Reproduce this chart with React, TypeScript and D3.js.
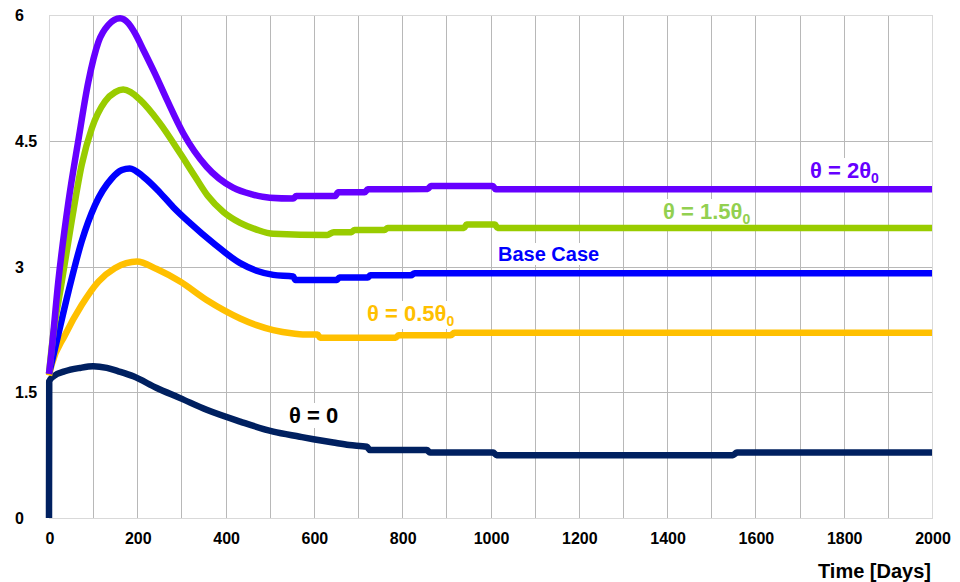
import React, { useEffect, useRef } from "react";
import * as d3 from "d3";

type Pt = [number, number];

const xTicks = [0, 200, 400, 600, 800, 1000, 1200, 1400, 1600, 1800, 2000];
const yTicks = [0, 1.5, 3, 4.5, 6];
const yTickLabels = ["0", "1.5", "3", "4.5", "6"];
const xGrid = d3.range(0, 2001, 100);

const theta2: Pt[] = [
  [0, 1.72], [5, 1.95], [21, 2.82], [44, 3.77], [66, 4.49], [89, 5.2], [112, 5.68], [134, 5.88],
  [161, 5.96], [180, 5.9], [195, 5.78], [214, 5.58], [240, 5.3], [267, 4.99], [304, 4.59],
  [357, 4.19], [417, 3.94], [460, 3.86], [500, 3.82], [553, 3.81], [560, 3.84], [648, 3.84],
  [655, 3.885], [715, 3.885], [722, 3.92], [858, 3.925], [865, 3.96], [1005, 3.96], [1012, 3.92],
  [2000, 3.92],
];
const theta15: Pt[] = [
  [0, 1.72], [6, 2.03], [29, 2.82], [51, 3.53], [74, 4.21], [97, 4.65], [127, 4.97], [150, 5.08],
  [168, 5.11], [185, 5.08], [206, 4.99], [251, 4.71], [297, 4.35], [330, 4.08], [360, 3.84],
  [395, 3.65], [433, 3.52], [470, 3.44], [508, 3.39], [630, 3.376], [645, 3.41], [685, 3.41],
  [692, 3.435], [760, 3.435], [767, 3.46], [940, 3.46], [946, 3.5], [1010, 3.5], [1016, 3.46],
  [2000, 3.46],
];
const baseCase: Pt[] = [
  [0, 1.72], [14, 2.03], [44, 2.7], [74, 3.3], [104, 3.73], [142, 4.05], [165, 4.15], [183, 4.17],
  [214, 4.07], [250, 3.89], [281, 3.71], [319, 3.52], [372, 3.28], [433, 3.04], [470, 2.95],
  [508, 2.9], [553, 2.88], [558, 2.84], [652, 2.84], [658, 2.87], [722, 2.87], [728, 2.895],
  [820, 2.895], [828, 2.92], [2000, 2.92],
];
const theta05: Pt[] = [
  [0, 1.7], [6, 1.83], [36, 2.18], [74, 2.54], [112, 2.82], [149, 2.98], [175, 3.04], [199, 3.06],
  [244, 2.97], [297, 2.82], [357, 2.6], [433, 2.38], [470, 2.3], [508, 2.24], [553, 2.2],
  [575, 2.19], [608, 2.19], [614, 2.15], [785, 2.15], [792, 2.18], [910, 2.18], [918, 2.21],
  [2000, 2.21],
];
const theta0: Pt[] = [
  [0, 0], [0.5, 1.63], [10, 1.69], [36, 1.75], [70, 1.79], [100, 1.81], [131, 1.79], [157, 1.75],
  [191, 1.69], [244, 1.55], [297, 1.43], [357, 1.29], [433, 1.15], [508, 1.03], [568, 0.97],
  [599, 0.94], [644, 0.9], [680, 0.87], [720, 0.85], [727, 0.81], [856, 0.81], [863, 0.78],
  [1006, 0.78], [1014, 0.75], [1549, 0.75], [1558, 0.78], [2000, 0.78],
];

const series = [
  { name: "θ = 0", data: theta0, color: "#002060" },
  { name: "θ = 0.5θ0", data: theta05, color: "#ffc000" },
  { name: "Base Case", data: baseCase, color: "#0000ff" },
  { name: "θ = 1.5θ0", data: theta15, color: "#99cc00" },
  { name: "θ = 2θ0", data: theta2, color: "#6600ff" },
];

const labels = [
  { main: "θ = 2θ", sub: "0", x: 810, y: 178, color: "#6600ff", size: 22 },
  { main: "θ = 1.5θ", sub: "0", x: 663, y: 219, color: "#92d050", size: 22 },
  { main: "Base Case", sub: "", x: 498, y: 261, color: "#0000ff", size: 20 },
  { main: "θ = 0.5θ", sub: "0", x: 367, y: 321, color: "#ffc000", size: 22 },
  { main: "θ = 0", sub: "", x: 289, y: 423, color: "#000000", size: 22 },
];

const W = 960;
const H = 582;
const X0 = 49;
const X1 = 932;
const YTOP = 15;
const YBOT = 518;

export default function App() {
  const ref = useRef<SVGSVGElement>(null);

  useEffect(() => {
    const svg = d3.select(ref.current);
    svg.selectAll("*").remove();
    const x = d3.scaleLinear().domain([0, 2000]).range([X0, X1]);
    const y = d3.scaleLinear().domain([0, 6]).range([YBOT, YTOP]);
    const font = "'Liberation Sans', Arial, sans-serif";

    svg.append("rect").attr("width", W).attr("height", H).attr("fill", "#ffffff");

    const g = svg.append("g");
    g.selectAll("line.vx")
      .data(xGrid.filter((d) => d > 0 && d < 2000))
      .join("line")
      .attr("x1", (d) => Math.round(x(d)) + 0.5)
      .attr("x2", (d) => Math.round(x(d)) + 0.5)
      .attr("y1", YTOP)
      .attr("y2", YBOT)
      .attr("stroke", "#b8b8b8")
      .attr("stroke-width", 1);
    g.selectAll("line.hy")
      .data(yTicks.filter((d) => d > 0 && d < 6))
      .join("line")
      .attr("x1", X0)
      .attr("x2", X1)
      .attr("y1", (d) => Math.round(y(d)) + 0.5)
      .attr("y2", (d) => Math.round(y(d)) + 0.5)
      .attr("stroke", "#b8b8b8")
      .attr("stroke-width", 1);
    g.append("rect")
      .attr("x", X0 + 0.5)
      .attr("y", YTOP + 0.5)
      .attr("width", X1 - X0)
      .attr("height", YBOT - YTOP)
      .attr("fill", "none")
      .attr("stroke", "#d9d9d9");

    const lg = svg.append("g");
    labels.forEach((l) => {
      const bg = lg.append("rect").attr("fill", "#ffffff");
      const t = lg
        .append("text")
        .attr("x", l.x)
        .attr("y", l.y)
        .attr("font-family", font)
        .attr("font-weight", "bold")
        .attr("font-size", l.size)
        .attr("fill", l.color);
      t.append("tspan").text(l.main);
      if (l.sub) {
        t.append("tspan").attr("dy", 5).attr("font-size", 14).text(l.sub);
      }
      const bb = (t.node() as SVGTextElement).getBBox();
      bg.attr("x", bb.x - 1)
        .attr("y", bb.y)
        .attr("width", bb.width + 2)
        .attr("height", bb.height);
    });

    const line = d3
      .line<Pt>()
      .x((d) => x(d[0]))
      .y((d) => y(d[1]))
      .curve(d3.curveMonotoneX);
    svg
      .append("g")
      .selectAll("path")
      .data(series)
      .join("path")
      .attr("d", (s) => line(s.data) as string)
      .attr("fill", "none")
      .attr("stroke", (s) => s.color)
      .attr("stroke-width", 6.5)
      .attr("stroke-linejoin", "round");

    svg
      .append("g")
      .selectAll("text")
      .data(yTicks)
      .join("text")
      .attr("x", 15)
      .attr("y", (d) => y(d) + 6)
      .attr("font-family", font)
      .attr("font-weight", "bold")
      .attr("font-size", 16)
      .attr("fill", "#000")
      .text((d, i) => yTickLabels[i]);

    svg
      .append("g")
      .selectAll("text")
      .data(xTicks)
      .join("text")
      .attr("x", (d) => x(d) + 1)
      .attr("y", 544)
      .attr("text-anchor", "middle")
      .attr("font-family", font)
      .attr("font-weight", "bold")
      .attr("font-size", 16)
      .attr("fill", "#000")
      .text((d) => String(d));

    svg
      .append("text")
      .attr("x", 931)
      .attr("y", 578)
      .attr("text-anchor", "end")
      .attr("font-family", font)
      .attr("font-weight", "bold")
      .attr("font-size", 20)
      .attr("fill", "#000")
      .text("Time [Days]");
  }, []);

  return (
    <svg
      ref={ref}
      width={W}
      height={H}
      style={{ position: "absolute", left: 0, top: 0, display: "block" }}
    />
  );
}
